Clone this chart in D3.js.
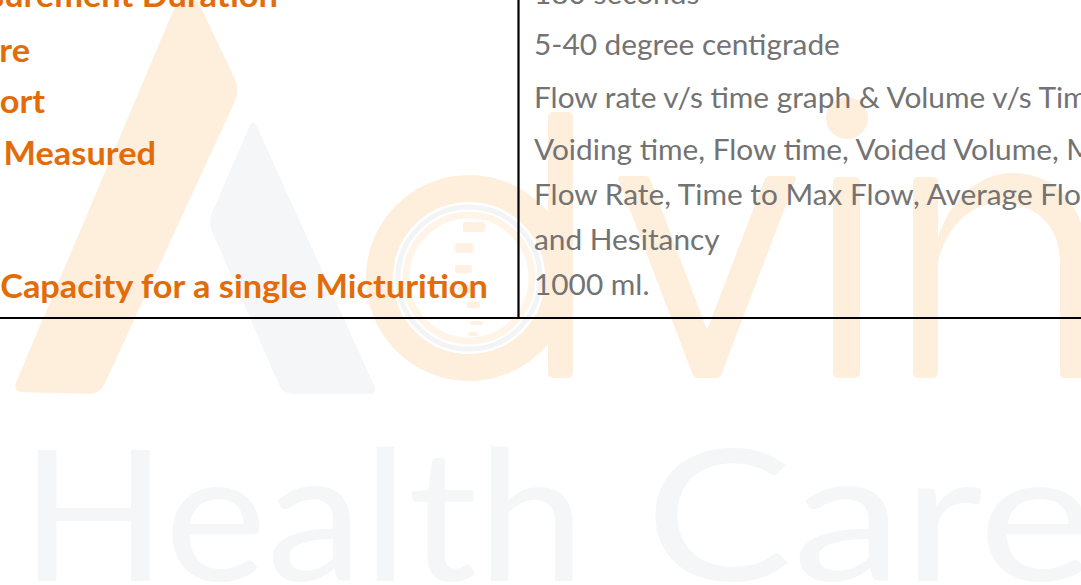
<!DOCTYPE html>
<html><head><meta charset="utf-8">
<script src="https://cdn.jsdelivr.net/npm/d3@7"></script>
<style>html,body{margin:0;padding:0;background:#fff;overflow:hidden}</style>
</head><body>
<svg id="c" width="1081" height="585"></svg>
<script>
// ---- data ----
const rowLabels = ["Measurement Duration", "Temperature", "Report", "Parameters Measured", "Maximum Capacity for a single Micturition"];
const rowDetails = [
  ["180 seconds"],
  ["5-40 degree centigrade"],
  ["Flow rate v/s time graph & Volume v/s Time graph"],
  ["Voiding time, Flow time, Voided Volume, Max", "Flow Rate, Time to Max Flow, Average Flow Rate", "and Hesitancy"],
  ["1000 ml."]
];
const watermarkWords = ["Health", "Care"];

// ---- layout ----
const W = 1081, H = 585;
const svg = d3.select("#c");
const rowY = d3.scaleOrdinal().domain(rowLabels).range([4, 55, 108, 160, 295]); // first-line baseline (detail column)
const labelEnd = d3.scaleOrdinal().domain(rowLabels).range([278, 30, 45, 156, 488]);
const labelShift = d3.scaleOrdinal().domain(rowLabels).range([3, 7, 5, 5, 3]);
const lineH = 45;
const divX = 518.5, bottomY = 318, detailX = 534;

const WM_O = "#FEEEDC", WM_G = "#F5F6F8";

function roundPoly(pts, r) {
  const n = pts.length; let d = "";
  for (let i = 0; i < n; i++) {
    const p0 = pts[(i - 1 + n) % n], p1 = pts[i], p2 = pts[(i + 1) % n];
    const v1 = [p0[0] - p1[0], p0[1] - p1[1]], v2 = [p2[0] - p1[0], p2[1] - p1[1]];
    const l1 = Math.hypot(...v1), l2 = Math.hypot(...v2);
    const rr = Math.min(r, l1 / 2, l2 / 2);
    const a = [p1[0] + v1[0] / l1 * rr, p1[1] + v1[1] / l1 * rr];
    const b = [p1[0] + v2[0] / l2 * rr, p1[1] + v2[1] / l2 * rr];
    d += (i === 0 ? "M" : "L") + a[0] + "," + a[1] + "Q" + p1[0] + "," + p1[1] + " " + b[0] + "," + b[1];
  }
  return d + "Z";
}

// ---- watermark ----
const wm = svg.append("g");
const hc = wm.append("text").attr("y", 581).attr("font-family", "Lato").attr("font-weight", 400)
  .attr("font-size", 183).attr("fill", WM_G);
hc.append("tspan").attr("x", 20).attr("textLength", 565).attr("lengthAdjust", "spacingAndGlyphs").text(watermarkWords[0]);
hc.append("tspan").attr("x", 645).attr("textLength", 450).attr("lengthAdjust", "spacingAndGlyphs").text(watermarkWords[1]);
// A
wm.append("path").attr("fill", WM_O).attr("d", roundPoly([[187, -22], [240, 90], [100, 394], [12, 392]], 12));
wm.append("path").attr("fill", WM_G).attr("d", roundPoly([[253, 118], [208, 222], [283, 394], [378, 394]], 10));
// d
wm.append("circle").attr("cx", 469).attr("cy", 278).attr("r", 89.5).attr("fill", "none").attr("stroke", WM_O).attr("stroke-width", 27);
wm.append("circle").attr("cx", 469).attr("cy", 278).attr("r", 71).attr("fill", "none").attr("stroke", "#F3F4F5").attr("stroke-width", 5);
wm.append("circle").attr("cx", 469).attr("cy", 278).attr("r", 63).attr("fill", "none").attr("stroke", "#FFF4E8").attr("stroke-width", 7);
[[463, 222, 22, 10], [455, 243, 18, 10], [455, 265, 17, 8], [458, 285, 16, 8], [467, 302, 13, 6], [470, 321, 13, 4], [468, 332, 10, 4]]
  .forEach(r => wm.append("rect").attr("x", r[0]).attr("y", r[1]).attr("width", r[2]).attr("height", r[3]).attr("rx", 2).attr("fill", "#FFF1E2"));
wm.append("rect").attr("x", 548).attr("y", 112).attr("width", 25).attr("height", 266).attr("rx", 5).attr("fill", WM_O);
// v
wm.append("path").attr("fill", WM_O).attr("d", roundPoly([[617, 176], [649, 176], [707, 330], [766, 176], [797, 176], [720, 378], [694, 378]], 4));
// i
wm.append("rect").attr("x", 833).attr("y", 177).attr("width", 27).attr("height", 201).attr("rx", 5).attr("fill", WM_O);
wm.append("circle").attr("cx", 847).attr("cy", 118).attr("r", 21).attr("fill", WM_O);
// n
wm.append("rect").attr("x", 913).attr("y", 177).attr("width", 25).attr("height", 201).attr("rx", 5).attr("fill", WM_O);
wm.append("path").attr("fill", WM_O)
  .attr("d", "M936,245 C948,197 982,173 1012,173 C1056,173 1086,207 1086,255 V373 Q1086,378 1081,378 H1065 Q1060,378 1060,373 V262 C1060,226 1036,203 1000,203 C970,203 946,226 936,268 Z");

// ---- text ----
function measure(str, font) {
  const t = svg.append("text").attr("font-family", font.family).attr("font-weight", font.weight).attr("font-size", font.size).text(str);
  const w = t.node().getComputedTextLength(); t.remove(); return w;
}
const boldFont = { family: "Lato", weight: 700, size: 32, fill: "#E36C0A" };
const regFont = { family: "Lato", weight: 400, size: 29.5, fill: "#737373" };
const sxB = 488 / measure("Capacity for a single Micturition", boldFont);
const anchorsR = [["5-40 degree centigrade", 300], ["and Hesitancy", 181], ["Flow rate v/s time graph & Volume v/s Ti", 540]];
const sxR = d3.sum(anchorsR, a => a[1]) / d3.sum(anchorsR, a => measure(a[0], regFont));

const left = svg.append("g");
rowLabels.forEach(lbl => {
  left.append("text")
    .attr("transform", `translate(${labelEnd(lbl)},${rowY(lbl) + labelShift(lbl)}) scale(${sxB},1)`)
    .attr("text-anchor", "end")
    .attr("font-family", boldFont.family).attr("font-weight", boldFont.weight)
    .attr("font-size", boldFont.size).attr("fill", boldFont.fill)
    .text(lbl);
});
const right = svg.append("g");
rowLabels.forEach((lbl, i) => {
  rowDetails[i].forEach((line, j) => {
    right.append("text")
      .attr("transform", `translate(${detailX},${rowY(lbl) + j * lineH}) scale(${sxR},1)`)
      .attr("font-family", regFont.family).attr("font-weight", regFont.weight)
      .attr("font-size", regFont.size).attr("fill", regFont.fill)
      .text(line);
  });
});

// ---- table rules ----
svg.append("line").attr("x1", divX).attr("x2", divX).attr("y1", 0).attr("y2", bottomY).attr("stroke", "#000").attr("stroke-width", 2.2);
svg.append("line").attr("x1", 0).attr("x2", W).attr("y1", bottomY).attr("y2", bottomY).attr("stroke", "#000").attr("stroke-width", 2.2);
</script>
</body></html>
